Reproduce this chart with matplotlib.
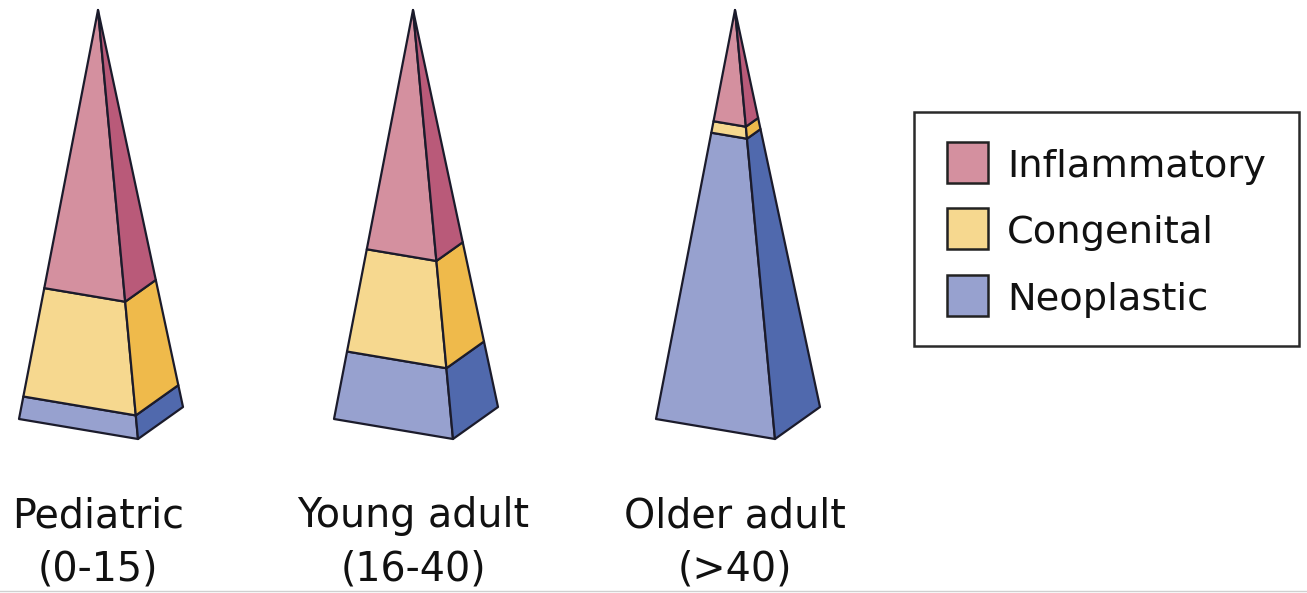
import matplotlib
matplotlib.use("Agg")
import matplotlib.pyplot as plt
from matplotlib.patches import Polygon, Rectangle

# Share of each cause, by age group (percent of pyramid height, bottom to top)
groups = ["Pediatric", "Young adult", "Older adult"]
age_ranges = ["(0-15)", "(16-40)", "(>40)"]
categories = ["Inflammatory", "Congenital", "Neoplastic"]
neoplastic = [5.5, 16.5, 70.0]
congenital = [26.5, 25.0, 2.8]
inflammatory = [68.0, 58.5, 27.2]

# Face colours: (front, side) per category
front_colors = {"Inflammatory": "#d4909f", "Congenital": "#f6d88f", "Neoplastic": "#97a1cf"}
side_colors = {"Inflammatory": "#b95a79", "Congenital": "#efba4b", "Neoplastic": "#5069ad"}
edge = "#1b1b2b"

W, H = 1307, 593
fig = plt.figure(figsize=(W / 100, H / 100), dpi=100)
ax = fig.add_axes([0, 0, 1, 1])
ax.set_xlim(0, W)
ax.set_ylim(H, 0)
ax.axis("off")

# Pyramid geometry (pixel offsets of the base corners from the apex)
apex_x = [98, 413, 735]
apex_y = 10
off_left = (-79, 409)
off_ridge = (40, 429)
off_back = (85, 397)


def lerp(base, apex, t):
    return (base[0] + t * (apex[0] - base[0]), base[1] + t * (apex[1] - base[1]))


for i, ax_x in enumerate(apex_x):
    A = (ax_x, apex_y)
    L = (ax_x + off_left[0], apex_y + off_left[1])
    R = (ax_x + off_ridge[0], apex_y + off_ridge[1])
    B = (ax_x + off_back[0], apex_y + off_back[1])
    segs = [("Neoplastic", neoplastic[i]), ("Congenital", congenital[i]),
            ("Inflammatory", inflammatory[i])]
    total = sum(v for _, v in segs)
    t0 = 0.0
    for name, val in segs:
        t1 = min(1.0, t0 + val / total)
        front = [lerp(L, A, t0), lerp(R, A, t0), lerp(R, A, t1), lerp(L, A, t1)]
        side = [lerp(R, A, t0), lerp(B, A, t0), lerp(B, A, t1), lerp(R, A, t1)]
        ax.add_patch(Polygon(front, closed=True, facecolor=front_colors[name],
                             edgecolor=edge, linewidth=1.6, joinstyle="round"))
        ax.add_patch(Polygon(side, closed=True, facecolor=side_colors[name],
                             edgecolor=edge, linewidth=1.6, joinstyle="round"))
        t0 = t1

    ax.text(ax_x, 527, groups[i], ha="center", va="baseline",
            fontsize=28.5, color="#111111", family="DejaVu Sans")
    ax.text(ax_x, 580, age_ranges[i], ha="center", va="baseline",
            fontsize=28.5, color="#111111", family="DejaVu Sans")

# Legend box
ax.add_patch(Rectangle((914, 112), 385, 234, facecolor="white",
                       edgecolor="#2a2a2a", linewidth=1.8))
sw_top = [142, 208, 275]
for name, top in zip(categories, sw_top):
    ax.add_patch(Rectangle((947, top), 41, 41, facecolor=front_colors[name],
                           edgecolor="#222222", linewidth=1.8))
    ax.text(1007, top + 35, name, ha="left", va="baseline",
            fontsize=27.6, color="#111111", family="DejaVu Sans")

# thin rule along the bottom edge
ax.plot([0, W], [591, 591], color="#d0d0d0", linewidth=1)

fig.savefig("out.png", dpi=100, facecolor="white")
